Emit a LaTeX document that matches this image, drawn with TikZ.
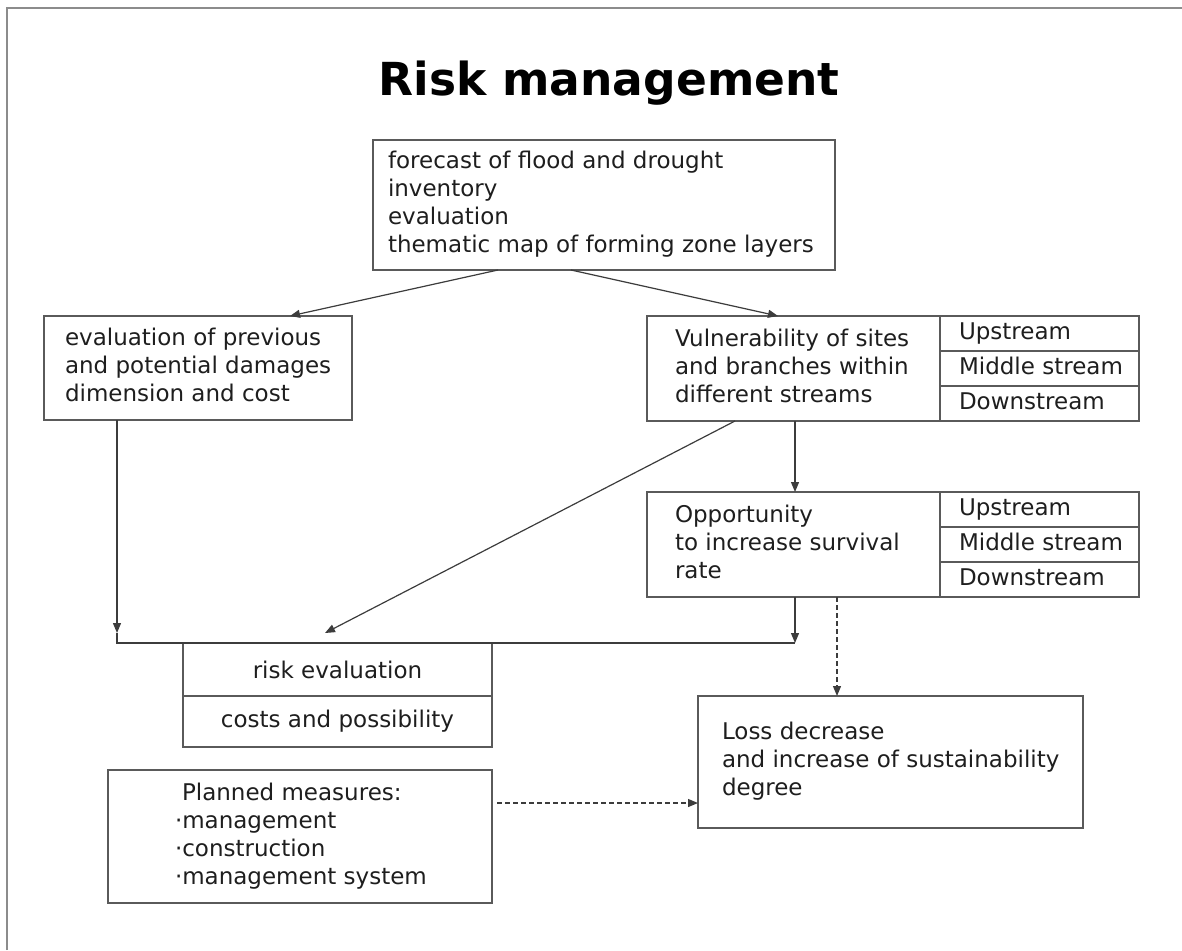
\documentclass[tikz,border=0pt]{standalone}
\usepackage{fontspec}
\setmainfont{DejaVu Sans}
\usetikzlibrary{arrows.meta}
\definecolor{inkc}{HTML}{1E1E1E}
\definecolor{edgec}{HTML}{5A5A5A}
\definecolor{wirec}{HTML}{3C3C3C}
\definecolor{framec}{HTML}{8C8C8C}
% left-aligned block of lines inside a slot of the given width
\newcommand\leftlines[2]{\makebox[#1][l]{\begin{tabular}{@{}l@{}}#2\end{tabular}}}
\tikzset{
  txt/.style={font=\fontsize{23}{28}\selectfont, text=inkc},
  cell/.style={txt, draw=edgec, line width=1.4pt, inner sep=0pt, outer sep=0pt,
    rectangle, minimum width=#1},
  wire/.style={draw=wirec, line width=1.2pt},
  arr/.style={wire, -{Triangle[length=10pt,width=8pt]}},
  dasharr/.style={arr, dash pattern=on 5pt off 3pt},
}
\begin{document}
\begin{tikzpicture}[x=1pt, y=-1pt]
\useasboundingbox (0,0) rectangle (1182,950);
% page frame
\draw[framec, line width=2pt] (7,950) -- (7,8) -- (1182,8);

% title
\node[anchor=base, text=black, font=\fontsize{45.5}{50}\selectfont\bfseries] (title) at (609,95) {Risk management};

% top box
\node[cell=462pt, minimum height=130pt] (top) at (604,205)
  {\leftlines{432pt}{forecast of flood and drought\\inventory\\evaluation\\thematic map of forming zone layers}};

% damages box
\node[cell=308pt, minimum height=104pt] (dmg) at (198,368)
  {\leftlines{266pt}{evaluation of previous\\and potential damages\\dimension and cost}};

% vulnerability box with stream cells
\node[cell=293pt, minimum height=105pt] (vul) at (793.5,368.5)
  {\leftlines{237pt}{Vulnerability of sites\\and branches within\\different streams}};
\node[cell=199pt, minimum height=35pt] (vulA) at (1039.5,333.5) {\leftlines{161pt}{Upstream}};
\node[cell=199pt, minimum height=35pt] (vulB) at (1039.5,368.5) {\leftlines{161pt}{Middle stream}};
\node[cell=199pt, minimum height=35pt] (vulC) at (1039.5,403.5) {\leftlines{161pt}{Downstream}};

% opportunity box with stream cells
\node[cell=293pt, minimum height=105pt] (opp) at (793.5,544.5)
  {\leftlines{237pt}{Opportunity\\to increase survival\\rate}};
\node[cell=199pt, minimum height=35pt] (oppA) at (1039.5,509.5) {\leftlines{161pt}{Upstream}};
\node[cell=199pt, minimum height=35pt] (oppB) at (1039.5,544.5) {\leftlines{161pt}{Middle stream}};
\node[cell=199pt, minimum height=35pt] (oppC) at (1039.5,579.5) {\leftlines{161pt}{Downstream}};

% risk evaluation box
\node[cell=309pt, minimum height=53pt] (riskA) at (337.5,669.5) {risk evaluation};
\node[cell=309pt, minimum height=51pt] (riskB) at (337.5,721.5) {costs and possibility};

% loss box
\node[cell=385pt, minimum height=132pt] (loss) at (890.5,762)
  {\leftlines{337pt}{Loss decrease\\and increase of sustainability\\degree}};

% planned measures box
\node[cell=384pt, minimum height=133pt] (plan) at (300,836.5)
  {\leftlines{250pt}{\hspace*{7pt}Planned measures:\\·management\\·construction\\·management system}};

% connectors
\draw[arr] ([xshift=-106pt]top.south) -- ([xshift=92pt]dmg.north);
\draw[arr] ([xshift=-33pt]top.south) -- ([xshift=-15.5pt]vul.north);
\draw[arr] ([xshift=1.5pt]vul.south) -- ([xshift=1.5pt]opp.north);

\coordinate (jl) at (117,643);
\coordinate (jr) at (795,643);
\coordinate (tipd) at (325,633);
\draw[arr] ([xshift=-58.5pt]vul.south) -- (tipd);
\draw[arr] ([xshift=-81pt]dmg.south) -- ([yshift=10pt]jl);
\draw[wire] ([yshift=10pt]jl) -- (jl) -- (jr);
\draw[arr] ([xshift=1.5pt]opp.south) -- (jr);

\draw[dasharr] ([xshift=43.5pt]opp.south) -- ([xshift=-53.5pt]loss.north);
\draw[dasharr] ([xshift=5pt,yshift=33.5pt]plan.east) -- ([yshift=-41pt]loss.west);
\end{tikzpicture}
\end{document}
